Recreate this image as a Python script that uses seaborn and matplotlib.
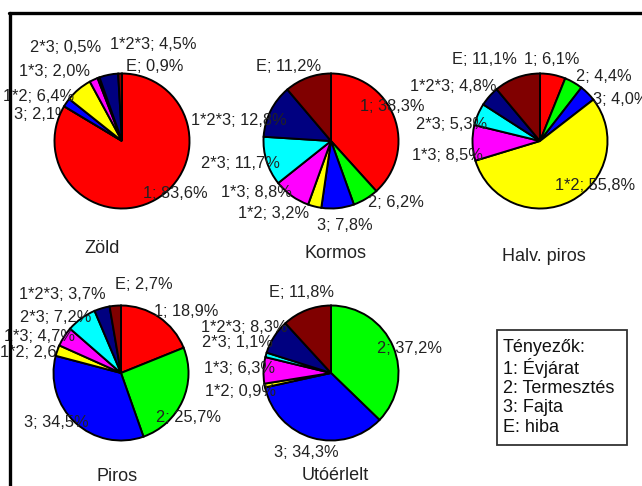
import matplotlib
matplotlib.use("Agg")
import matplotlib.pyplot as plt
import seaborn as sns
import pandas as pd
from matplotlib.patches import Rectangle
from matplotlib.lines import Line2D

# ---------------- data ----------------
factors = ["1", "2", "3", "1*2", "1*3", "2*3", "1*2*3", "E"]
zold = [83.6, 0.0, 2.1, 6.4, 2.0, 0.5, 4.5, 0.9]
kormos = [38.3, 6.2, 7.8, 3.2, 8.8, 11.7, 12.8, 11.2]
halv_piros = [6.1, 4.4, 4.0, 55.8, 8.5, 5.3, 4.8, 11.1]
piros = [18.9, 25.7, 34.5, 2.6, 4.7, 7.2, 3.7, 2.7]
utoerlelt = [0.0, 37.2, 34.3, 0.9, 6.3, 1.1, 8.3, 11.8]
titles = ["Zöld", "Kormos", "Halv. piros", "Piros", "Utóérlelt"]
legend_title = "Tényezők:"
legend_lines = ["1: Évjárat", "2: Termesztés", "3: Fajta", "E: hiba"]

series = [zold, kormos, halv_piros, piros, utoerlelt]
df = pd.DataFrame(
    [(t, f, v) for t, vals in zip(titles, series) for f, v in zip(factors, vals)],
    columns=["minta", "tenyezo", "arany"],
)

# ---------------- style ----------------
sns.set_theme(style="white")
plt.rcParams["font.family"] = ["Liberation Sans", "DejaVu Sans"]
palette = sns.color_palette(["#ff0000", "#00ff00", "#0000ff", "#ffff00",
                             "#ff00ff", "#00ffff", "#000080", "#800000"])
colors = dict(zip(factors, palette))

W, H = 642, 486
fig = plt.figure(figsize=(W / 100, H / 100), dpi=100)
fig.patch.set_facecolor("white")

# layout (pixels, y from top)
centers = {"Zöld": (122, 141), "Kormos": (331, 141), "Halv. piros": (540, 141),
           "Piros": (121, 373), "Utóérlelt": (331, 373)}
title_pos = {"Zöld": (102, 248), "Kormos": (336, 254), "Halv. piros": (544, 256),
             "Piros": (117, 476), "Utóérlelt": (335, 475)}
R = 67.5
S = 160.0
label_pos = {
    "Zöld": {"1": (0.79, -0.78), "3": (-1.19, 0.39), "1*2": (-1.24, 0.66),
             "1*3": (-1.0, 1.03), "2*3": (-0.84, 1.39), "1*2*3": (0.46, 1.43),
             "E": (0.48, 1.10)},
    "Kormos": {"E": (-0.63, 1.10), "1": (0.91, 0.51), "1*2*3": (-1.36, 0.31),
               "2*3": (-1.34, -0.33), "1*3": (-1.10, -0.76), "1*2": (-0.85, -1.07),
               "3": (0.21, -1.25), "2": (0.96, -0.91)},
    "Halv. piros": {"E": (-0.82, 1.21), "1": (0.18, 1.21), "2": (0.94, 0.96),
                    "3": (1.19, 0.61), "1*2*3": (-1.28, 0.81), "2*3": (-1.31, 0.24),
                    "1*3": (-1.37, -0.21), "1*2": (0.82, -0.66)},
    "Piros": {"E": (0.34, 1.31), "1*2*3": (-0.87, 1.16), "1": (0.97, 0.91),
              "2*3": (-0.97, 0.82), "1*3": (-1.20, 0.535), "1*2": (-1.27, 0.30),
              "2": (1.0, -0.66), "3": (-0.96, -0.73)},
    "Utóérlelt": {"E": (-0.43, 1.19), "2": (1.16, 0.37), "1*2*3": (-1.28, 0.67),
                  "2*3": (-1.39, 0.45), "1*3": (-1.36, 0.07), "1*2": (-1.34, -0.28),
                  "3": (-0.36, -1.18)},
}
behind = {("Zöld", "3"), ("Piros", "1*2")}
txt_color = "#222222"

for title in titles:
    sub = df[df["minta"] == title]
    cx, cy = centers[title]
    ax = fig.add_axes([(cx - S) / W, 1 - (cy + S) / H, 2 * S / W, 2 * S / H])
    ax.pie(sub["arany"], colors=[colors[f] for f in sub["tenyezo"]],
           startangle=90, counterclock=False, radius=1.0,
           wedgeprops=dict(edgecolor="black", linewidth=1.4), frame=True)
    ax.set_aspect("equal")
    ax.axis("off")
    ax.patch.set_alpha(0)
    ax.set_xlim(-S / R, S / R)
    ax.set_ylim(-S / R, S / R)
    for f, v in zip(sub["tenyezo"], sub["arany"]):
        if v <= 0:
            continue
        lx, ly = label_pos[title][f]
        lab = f"{f}; {v:.1f}%".replace(".", ",")
        ax.text(lx, ly, lab, ha="center", va="center", fontsize=11.8,
                color=txt_color, zorder=0.5 if (title, f) in behind else 5)
    tx, ty = title_pos[title]
    fig.text(tx / W, 1 - ty / H, title, ha="center", va="center",
             fontsize=13, color=txt_color)

# legend box
fig.add_artist(Rectangle((497 / W, 1 - 445 / H), 130 / W, 115 / H,
                         transform=fig.transFigure, fill=False,
                         edgecolor="#333333", linewidth=1.3))
ys = [348, 368, 388, 408, 427]
for line, y in zip([legend_title] + legend_lines, ys):
    fig.text(503 / W, 1 - y / H, line, ha="left", va="center",
             fontsize=13, color="#111111")

# outer frame (left and top edges visible)
fig.add_artist(Line2D([10.5 / W, 10.5 / W], [0, 1 - 13.5 / H],
                      transform=fig.transFigure, color="black", linewidth=2.4))
fig.add_artist(Line2D([9.3 / W, 1], [1 - 13.5 / H, 1 - 13.5 / H],
                      transform=fig.transFigure, color="black", linewidth=2.4))

fig.savefig("out.png", dpi=100, facecolor="white")
